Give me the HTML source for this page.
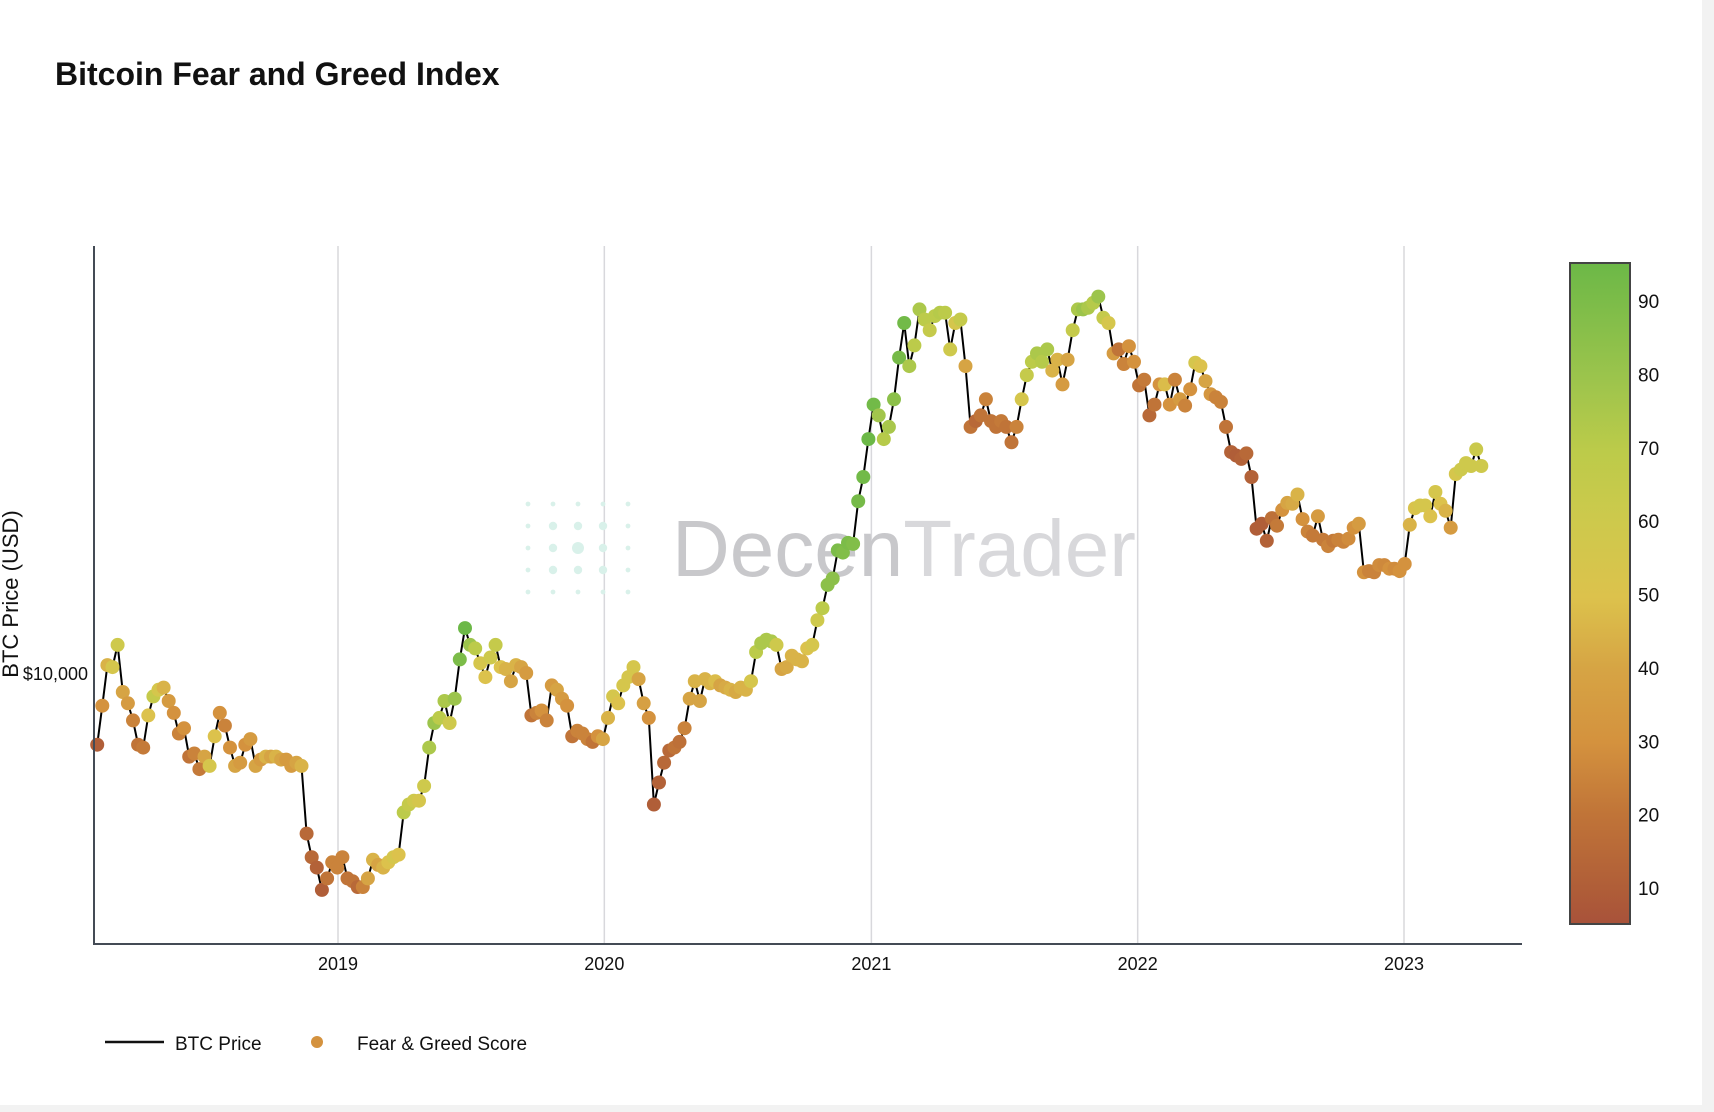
<!DOCTYPE html>
<html><head><meta charset="utf-8">
<style>
html,body{margin:0;padding:0;background:#f2f2f2;}
#card{position:absolute;left:0;top:0;width:1702px;height:1105px;background:#fff;}
svg{position:absolute;left:0;top:0;}
text{font-family:"Liberation Sans",sans-serif;}
</style></head>
<body>
<div id="card"></div>
<svg id="chart" width="1714" height="1112">
<defs>
<linearGradient id="cbar" x1="0" y1="1" x2="0" y2="0">
<stop offset="0" stop-color="#a8523a"/>
<stop offset="0.055" stop-color="#b05e38"/>
<stop offset="0.165" stop-color="#c07438"/>
<stop offset="0.275" stop-color="#d4923e"/>
<stop offset="0.385" stop-color="#d6a444"/>
<stop offset="0.495" stop-color="#dcc24c"/>
<stop offset="0.605" stop-color="#cec94c"/>
<stop offset="0.715" stop-color="#bccb4a"/>
<stop offset="0.825" stop-color="#9cc44c"/>
<stop offset="1" stop-color="#6cb847"/>
</linearGradient>
</defs>
<text x="55" y="85" font-size="32" font-weight="bold" fill="#111">Bitcoin Fear and Greed Index</text>
<g id="grid"></g>
<g>
<g id="wmdots" fill="#d9f1ea"></g>
<text x="672" y="576" font-size="80" fill="#c8c8cb">Decen<tspan fill="#d8d8db">Trader</tspan></text>
</g>
<path id="priceLine" fill="none" stroke="#000" stroke-width="2"/>
<g id="dots"></g>
<line x1="94" y1="246" x2="94" y2="944" stroke="#444b55" stroke-width="2"/>
<line x1="93" y1="944" x2="1522" y2="944" stroke="#444b55" stroke-width="2"/>
<g id="xticks"></g>
<text x="88" y="680" font-size="18" text-anchor="end" fill="#111">$10,000</text>
<text transform="translate(18,594) rotate(-90)" font-size="22" text-anchor="middle" fill="#111">BTC Price (USD)</text>
<rect x="1570" y="263" width="60" height="661" fill="url(#cbar)" stroke="#444" stroke-width="2"/>
<g id="cbticks"></g>
<g>
<line x1="105" y1="1042" x2="164" y2="1042" stroke="#111" stroke-width="2.5"/>
<text x="175" y="1050" font-size="19" fill="#111">BTC Price</text>
<circle cx="317" cy="1042" r="6" fill="#d4923e"/>
<text x="357" y="1050" font-size="19" fill="#111">Fear &amp; Greed Score</text>
</g>
</svg>
<script>
const startDate = "2018-02-05";
const prices = [
7000,8500,10400,10300,11500,9100,8600,7900,7000,6900,8100,8900,9200,9300,8700,8200,7400,7600,6600,6700,6200,6600,6300,7300,8200,7700,6900,6300,6400,7000,7200,6300,6500,6600,6600,6600,6500,6500,6300,6400,6300,4500,4000,3800,3400,3600,3900,3800,
4000,3600,3550,3450,3450,3600,3950,3850,3800,3900,4000,4050,5000,5200,5300,5300,5700,6900,7800,8000,8700,7800,8800,10700,12500,11500,11300,10500,9800,10800,11500,10300,10200,9600,10400,10300,10000,8100,8200,8300,7900,9400,9200,8800,8500,7300,7500,7400,7200,7100,7300,7200,
8000,8900,8600,9400,9800,10300,9700,8600,8000,5200,5800,6400,6800,6900,7100,7600,8800,9600,8700,9700,9500,9600,9400,9300,9200,9100,9300,9200,9600,11100,11600,11800,11700,11500,10200,10300,10900,10700,10600,11300,11500,13000,13800,15500,16000,18400,18200,19100,19000,23500,26500,32000,
38000,36000,32000,34000,39000,48000,57000,46000,51000,61000,58000,55000,59000,60000,60000,50000,57000,58000,46000,34000,35000,36000,39000,35000,34000,35000,34000,31500,34000,39000,44000,47000,49000,47000,50000,45000,47500,42000,47500,55000,61000,61000,61500,63000,65000,58500,57000,49000,50000,46500,50800,47000,
41800,43000,36000,38000,42000,42000,38000,43000,39000,37800,41000,46800,46000,42700,40000,39400,38500,34000,30000,29500,29000,29800,26500,20500,21000,19300,21600,20800,22500,23300,23200,24300,21500,20200,19800,21800,19400,18800,19300,19400,19200,19500,20600,21000,16500,16600,16500,17100,17100,16800,16800,16600,
17200,20900,22700,23000,23000,21800,24600,23200,22400,20600,26900,27500,28400,28000,30400,28000];
const scores = [
10,30,45,55,60,40,35,25,20,22,50,65,55,45,35,30,25,30,20,25,22,40,55,50,30,25,30,40,35,30,35,40,35,45,40,45,40,35,35,40,45,15,15,12,10,20,25,25,
25,20,20,15,25,40,45,40,45,50,55,50,70,65,60,55,60,75,80,70,75,60,80,90,95,80,70,55,50,60,65,50,45,40,45,40,35,20,25,30,25,35,40,35,30,20,25,25,25,20,30,40,
45,55,50,55,55,55,40,38,30,10,12,15,15,20,18,25,40,45,40,45,45,48,40,42,45,42,45,45,55,70,75,75,75,60,40,42,45,45,45,50,55,60,70,85,85,90,88,90,88,92,93,95,
93,78,72,76,85,92,93,75,70,75,70,65,70,72,70,60,55,65,40,20,15,20,25,20,20,22,20,20,25,55,65,70,75,72,75,45,45,35,40,65,75,80,75,72,80,65,55,35,20,25,30,30,
20,22,15,20,30,48,30,25,35,25,30,55,50,40,32,25,25,20,12,10,12,15,12,10,10,12,18,22,30,40,42,45,30,25,22,35,22,25,22,25,25,28,30,35,30,25,25,28,27,30,28,30,
30,45,52,55,55,50,55,50,45,35,55,60,60,60,62,60];
const years = [2019,2020,2021,2022,2023];
const cbTicks = [10,20,30,40,50,60,70,80,90];

const NS="http://www.w3.org/2000/svg";
const t2019=Date.UTC(2019,0,1), t2023=Date.UTC(2023,0,1);
function xScale(ms){return 338+(ms-t2019)/(t2023-t2019)*(1404-338);}
function yScale(p){return 673-(Math.log10(p)-4)*463;}
function cScale(v){return 924-(v-5.1)/(95.2-5.1)*661;}
const stops=[[5,[168,82,58]],[10,[176,94,56]],[20,[192,116,56]],[30,[212,146,62]],[40,[214,164,68]],[50,[220,194,76]],[60,[206,201,76]],[70,[188,203,74]],[80,[156,196,76]],[95,[108,184,71]]];
function color(v){
  for(let i=0;i<stops.length-1;i++){const a=stops[i],b=stops[i+1];
    if(v<=b[0]||i==stops.length-2){let t=Math.max(0,Math.min(1,(v-a[0])/(b[0]-a[0])));
      return "rgb("+a[1].map((c,k)=>Math.round(c+(b[1][k]-c)*t)).join(",")+")";}}
}
const s0=Date.parse(startDate);
const grid=document.getElementById('grid'), xt=document.getElementById('xticks');
years.forEach(y=>{
  const x=xScale(Date.UTC(y,0,1));
  const l=document.createElementNS(NS,'line');
  l.setAttribute('x1',x);l.setAttribute('x2',x);l.setAttribute('y1',246);l.setAttribute('y2',944);
  l.setAttribute('stroke','#d8d8dc');l.setAttribute('stroke-width','1.5');
  
  
  grid.appendChild(l);
  const t=document.createElementNS(NS,'text');
  t.setAttribute('x',x);t.setAttribute('y',970);t.setAttribute('font-size','18');t.setAttribute('text-anchor','middle');t.setAttribute('fill','#111');
  t.textContent=y;
  
  
  xt.appendChild(t);
});
const cb=document.getElementById('cbticks');
cbTicks.forEach(v=>{
  const t=document.createElementNS(NS,'text');
  t.setAttribute('x',1638);t.setAttribute('y',cScale(v)+7);t.setAttribute('font-size','19');t.setAttribute('fill','#111');
  t.textContent=v;
  
  
  cb.appendChild(t);
});
let d="";
const dots=document.getElementById('dots');
prices.forEach((p,i)=>{
  const x=xScale(s0+i*7*86400000), y=yScale(p);
  d+=(i?"L":"M")+x.toFixed(1)+","+y.toFixed(1);
});
document.getElementById('priceLine').setAttribute('d',d);
prices.forEach((p,i)=>{
  const x=xScale(s0+i*7*86400000), y=yScale(p);
  const c=document.createElementNS(NS,'circle');
  c.setAttribute('cx',x.toFixed(1));c.setAttribute('cy',y.toFixed(1));c.setAttribute('r',7);
  c.setAttribute('fill',color(scores[i]));
  
  
  dots.appendChild(c);
});
const wm=document.getElementById('wmdots');
for(let r=0;r<5;r++)for(let k=0;k<5;k++){
  const dx=k-2, dy=r-2, rr=6-1.8*Math.max(Math.abs(dx),Math.abs(dy));
  const c=document.createElementNS(NS,'circle');
  c.setAttribute('cx',578+dx*25);c.setAttribute('cy',548+dy*22);c.setAttribute('r',Math.max(1.5,rr));
  wm.appendChild(c);
}
</script>
</body></html>
